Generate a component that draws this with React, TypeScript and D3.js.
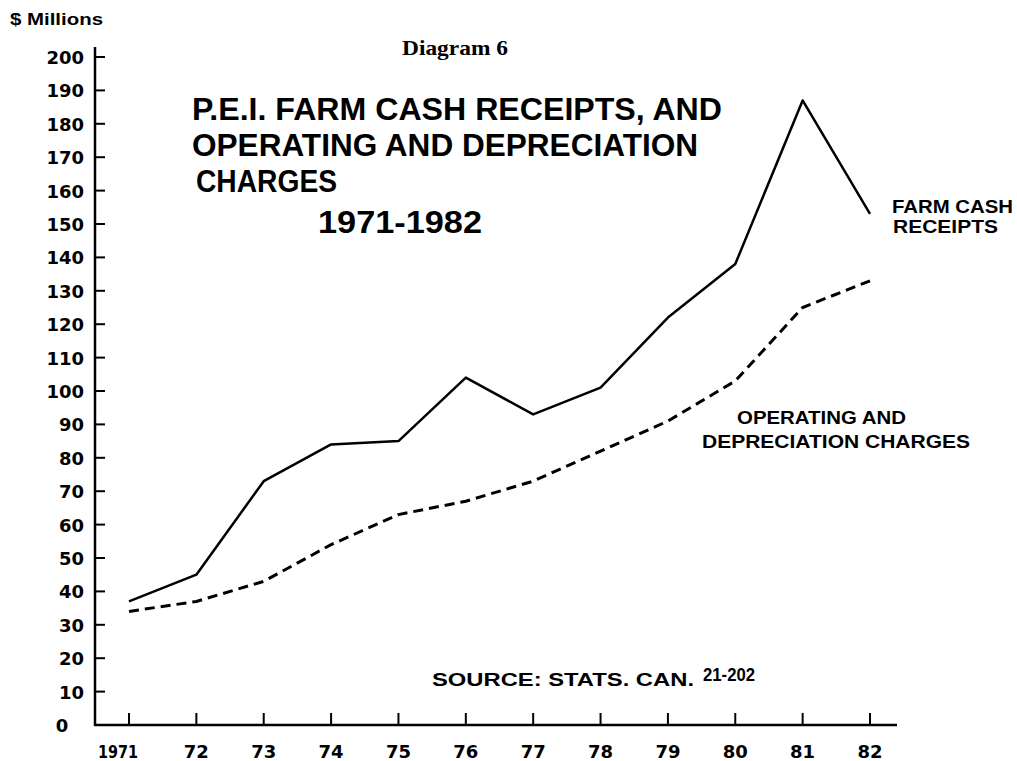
import { useEffect, useRef } from 'react';
import * as d3 from 'd3';

const years = [1971, 1972, 1973, 1974, 1975, 1976, 1977, 1978, 1979, 1980, 1981, 1982];
const yearLabels = ['1971', '72', '73', '74', '75', '76', '77', '78', '79', '80', '81', '82'];
const cashReceipts = [37, 45, 73, 84, 85, 104, 93, 101, 122, 138, 187, 153];
const operatingCharges = [34, 37, 43, 54, 63, 67, 73, 82, 91, 103, 125, 133];
const yTicks = d3.range(0, 201, 10);

const titleLines = [
  'P.E.I. FARM CASH RECEIPTS, AND',
  'OPERATING AND DEPRECIATION',
  'CHARGES',
  '1971-1982',
];

const SANS = '"Liberation Sans", Arial, sans-serif';
const TICK_FONT = '"DejaVu Sans", sans-serif';

export default function App() {
  const svgRef = useRef<SVGSVGElement>(null);

  useEffect(() => {
    if (!svgRef.current) return;
    const svg = d3.select(svgRef.current);
    svg.selectAll('*').remove();

    const x = d3.scaleLinear().domain([1971, 1982]).range([129, 870]);
    const y = d3.scaleLinear().domain([0, 200]).range([725, 57]);
    const axisX = 95;
    const axisY = y(0);

    svg.append('rect').attr('width', 1017).attr('height', 761).attr('fill', '#fff');

    // axes
    svg.append('line')
      .attr('x1', axisX).attr('x2', axisX)
      .attr('y1', 47).attr('y2', axisY + 1)
      .attr('stroke', '#000').attr('stroke-width', 2.5);
    svg.append('line')
      .attr('x1', axisX - 1).attr('x2', 897)
      .attr('y1', axisY).attr('y2', axisY)
      .attr('stroke', '#000').attr('stroke-width', 2.5);

    // y ticks + labels
    const yg = svg.append('g');
    yg.selectAll('line')
      .data(yTicks.filter(d => d > 0))
      .enter().append('line')
      .attr('x1', axisX).attr('x2', axisX + 10)
      .attr('y1', d => y(d)).attr('y2', d => y(d))
      .attr('stroke', '#000').attr('stroke-width', 2);
    yg.selectAll('text')
      .data(yTicks)
      .enter().append('text')
      .attr('x', d => (d === 0 ? 62 : 84))
      .attr('y', d => y(d) + 7)
      .attr('text-anchor', d => (d === 0 ? 'middle' : 'end'))
      .attr('font-family', TICK_FONT)
      .attr('font-weight', 'bold')
      .attr('font-size', 18)
      .text(d => d);

    // x ticks + labels
    const xg = svg.append('g');
    xg.selectAll('line')
      .data(years)
      .enter().append('line')
      .attr('x1', d => x(d)).attr('x2', d => x(d))
      .attr('y1', axisY).attr('y2', axisY - 12)
      .attr('stroke', '#000').attr('stroke-width', 2);
    xg.selectAll('text')
      .data(years)
      .enter().append('text')
      .attr('x', (d, i) => x(d) - (i === 0 ? 11 : 0))
      .attr('y', 758)
      .attr('text-anchor', 'middle')
      .attr('font-family', TICK_FONT)
      .attr('font-weight', 'bold')
      .attr('font-size', 18)
      .each(function (d, i) {
        if (yearLabels[i].length > 2) {
          d3.select(this).attr('textLength', 40).attr('lengthAdjust', 'spacingAndGlyphs');
        }
      })
      .text((d, i) => yearLabels[i]);

    const line = d3.line<number>()
      .x((d, i) => x(years[i]))
      .y(d => y(d));

    svg.append('path')
      .datum(cashReceipts)
      .attr('d', line)
      .attr('fill', 'none')
      .attr('stroke', '#000')
      .attr('stroke-width', 2.5)
      .attr('stroke-linejoin', 'round');

    svg.append('path')
      .datum(operatingCharges)
      .attr('d', line)
      .attr('fill', 'none')
      .attr('stroke', '#000')
      .attr('stroke-width', 3)
      .attr('stroke-dasharray', '10,6');

    // texts
    const addText = (txt: string, tx: number, ty: number, size: number, len?: number, opts: any = {}) => {
      const t = svg.append('text')
        .attr('x', tx).attr('y', ty)
        .attr('font-family', opts.family || SANS)
        .attr('font-weight', opts.weight || 'bold')
        .attr('font-size', size)
        .text(txt);
      if (len) t.attr('textLength', len).attr('lengthAdjust', 'spacingAndGlyphs');
      return t;
    };

    addText('$ Millions', 10, 25, 17, 93);
    addText('Diagram 6', 402, 55, 22, 106, { family: '"Liberation Serif", "Times New Roman", serif' });

    addText(titleLines[0], 192, 120, 31, 530);
    addText(titleLines[1], 192, 156, 31, 506);
    addText(titleLines[2], 196, 192, 31, 141);
    addText(titleLines[3], 318, 233, 31, 164);

    addText('FARM CASH', 892, 213, 18, 121);
    addText('RECEIPTS', 893, 233, 18, 105);

    addText('OPERATING AND', 737, 424, 18, 169);
    addText('DEPRECIATION CHARGES', 702, 448, 18, 268);

    addText('SOURCE: STATS. CAN.', 432, 686, 19, 262);
    addText('21-202', 703, 681, 19, 52);
  }, []);

  return (
    <svg
      ref={svgRef}
      width={1017}
      height={761}
      style={{ position: 'absolute', left: 0, top: 0 }}
    />
  );
}
